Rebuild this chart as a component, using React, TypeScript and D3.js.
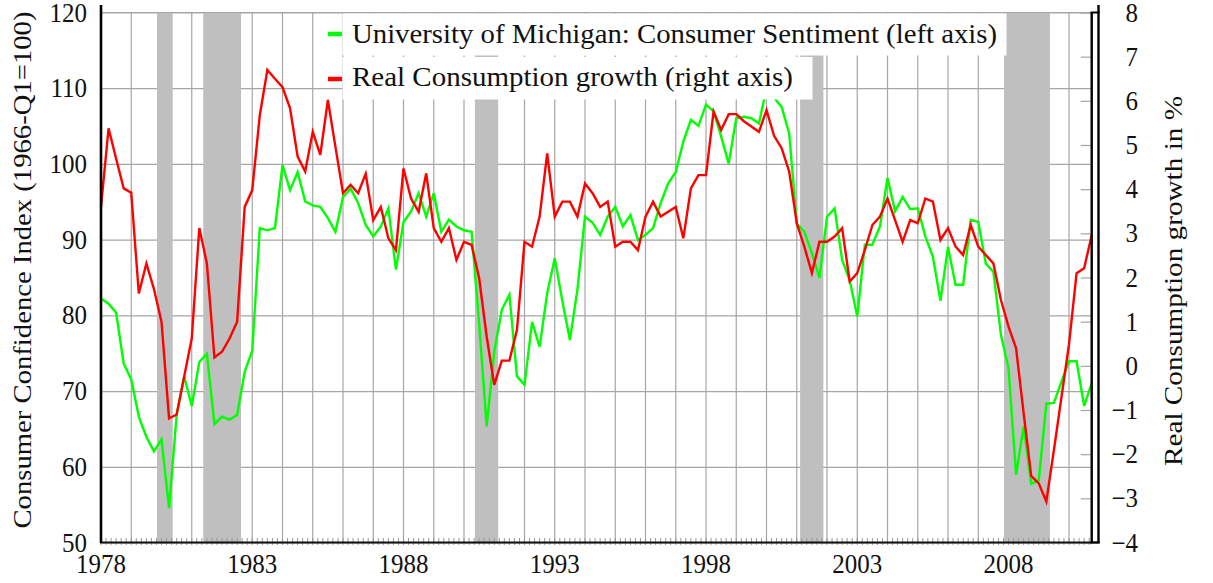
import React from "react";
import * as d3 from "d3";

// ---- data (quarterly, 1978Q1 .. 2010Q4) ----
const startYear = 1978;
const sentiment: number[] = [
  82.3, 81.6, 80.4, 73.7, 71.6, 66.7, 64.0, 62.1, 63.7, 54.6,
  66.9, 72.0, 68.1, 73.9, 75.0, 65.7, 66.7, 66.3, 66.9, 72.6,
  75.4, 91.6, 91.3, 91.6, 99.9, 96.6, 99.0, 95.1, 94.6, 94.4,
  92.9, 91.1, 95.7, 96.8, 94.9, 92.0, 90.5, 91.8, 94.2, 86.1,
  92.4, 93.8, 96.2, 93.1, 96.2, 91.1, 92.7, 91.8, 91.3, 91.1,
  79.0, 65.4, 75.3, 80.8, 82.8, 72.0, 70.9, 79.2, 75.9, 83.0,
  87.6, 82.0, 76.8, 83.5, 93.1, 92.3, 90.7, 93.1, 94.4, 91.8,
  93.3, 90.0, 90.7, 91.6, 94.9, 97.5, 99.0, 103.0, 105.9, 105.1,
  107.9, 107.0, 103.7, 100.1, 106.1, 106.3, 106.1, 105.4, 110.1, 108.8,
  107.6, 104.1, 92.2, 91.1, 88.3, 85.0, 93.1, 94.2, 87.4, 84.7,
  79.9, 89.4, 89.4, 91.8, 98.2, 93.8, 95.7, 94.1, 94.2, 90.5,
  87.8, 82.0, 89.1, 84.1, 84.1, 92.7, 92.4, 86.9, 85.8, 77.5,
  73.1, 59.0, 65.4, 57.8, 58.3, 68.4, 68.5, 71.3, 74.0, 74.0,
  68.1, 71.1,
];
const consumptionGrowth: number[] = [
  3.61, 5.39, 4.7, 4.03, 3.93, 1.65, 2.33, 1.75, 1.01, -1.18,
  -1.09, -0.23, 0.63, 3.13, 2.33, 0.2, 0.33, 0.63, 1.01, 3.61,
  3.99, 5.69, 6.71, 6.51, 6.32, 5.84, 4.75, 4.41, 5.31, 4.79,
  6.03, 4.97, 3.92, 4.11, 3.92, 4.36, 3.31, 3.61, 2.9, 2.63,
  4.48, 3.8, 3.5, 4.37, 3.13, 2.82, 3.13, 2.41, 2.82, 2.75,
  2.0, 0.67, -0.42, 0.13, 0.13, 0.82, 2.82, 2.71, 3.39, 4.82,
  3.39, 3.73, 3.73, 3.39, 4.14, 3.92, 3.61, 3.73, 2.71, 2.82,
  2.82, 2.63, 3.39, 3.73, 3.39, 3.5, 3.61, 2.9, 4.03, 4.33,
  4.33, 5.77, 5.35, 5.71, 5.71, 5.55, 5.43, 5.31, 5.8, 5.22,
  4.94, 4.41, 3.24, 2.71, 2.11, 2.82, 2.82, 2.94, 3.13, 1.92,
  2.11, 2.63, 3.2, 3.39, 3.8, 3.31, 2.82, 3.31, 3.24, 3.8,
  3.73, 2.86, 3.13, 2.71, 2.52, 3.2, 2.71, 2.52, 2.33, 1.5,
  0.9, 0.41, -1.06, -2.48, -2.65, -3.06, -1.9, -0.7, 0.5, 2.11,
  2.22, 2.97,
];
const recessions: [number, number][] = [
  [1979.85, 1980.37],
  [1981.38, 1982.63],
  [1990.36, 1991.13],
  [2001.11, 2001.88],
  [2007.85, 2009.37],
];
const xTickLabels = [1978, 1983, 1988, 1993, 1998, 2003, 2008];
const leftTicks = [50, 60, 70, 80, 90, 100, 110, 120];
const rightTicks = [-4, -3, -2, -1, 0, 1, 2, 3, 4, 5, 6, 7, 8];
const legendLabels = [
  "University of Michigan: Consumer Sentiment (left axis)",
  "Real Consumption growth (right axis)",
];
const leftTitle = "Consumer Confidence Index (1966-Q1=100)";
const rightTitle = "Real Consumption growth in %";

const W = 1213;
const H = 583;
const FONT = "'Liberation Serif', 'DejaVu Serif', serif";
const SY = 1.08;

export default function App() {
  const left = 101;
  const right = 1091.7;
  const top = 13;
  const bottom = 543;
  const x = d3.scaleLinear().domain([1978, 2010.75]).range([left, right]);
  const yL = d3.scaleLinear().domain([50, 120]).range([bottom, top]);
  const yR = d3.scaleLinear().domain([-4, 8]).range([bottom, top]);

  const dates = sentiment.map((_, i) => startYear + i / 4);
  const lineL = d3
    .line<number>()
    .x((_, i) => x(dates[i]))
    .y((d) => yL(d));
  const lineR = d3
    .line<number>()
    .x((_, i) => x(dates[i]))
    .y((d) => yR(d));

  const years = d3.range(1979, 2011);
  const minor = d3.range(0, 32.75 * 6 + 0.01).map((k) => 1978 + k / 6);
  const grid = "#a6a6a6";

  const txt = (
    key: string | number,
    tx: number,
    ty: number,
    s: string,
    anchor: string,
    extra: any = {}
  ) => (
    <text
      key={key}
      transform={`translate(${tx},${ty}) scale(1,${SY})`}
      textAnchor={anchor}
      fontFamily={FONT}
      fontSize={25}
      fill="#111"
      {...extra}
    >
      {s}
    </text>
  );

  return (
    <svg
      width={W}
      height={H}
      style={{ position: "absolute", left: 0, top: 0, display: "block", background: "#fff" }}
    >
      <rect x={0} y={0} width={W} height={H} fill="#fff" />
      {/* grid */}
      {leftTicks.map((v) => (
        <line key={"h" + v} x1={left} x2={right} y1={yL(v)} y2={yL(v)} stroke={grid} strokeWidth={1.2} />
      ))}
      {years.map((yv) => (
        <line key={"v" + yv} x1={x(yv)} x2={x(yv)} y1={top} y2={bottom} stroke={grid} strokeWidth={1.2} />
      ))}
      {/* recession bars */}
      {recessions.map(([a, b], i) => (
        <rect key={"r" + i} x={x(a)} y={top} width={x(b) - x(a)} height={bottom - top} fill="#bfbfbf" />
      ))}
      {/* right axis inward ticks */}
      {rightTicks.map((v) => (
        <line key={"rt" + v} x1={right - 11} x2={right} y1={yR(v)} y2={yR(v)} stroke={grid} strokeWidth={1.2} />
      ))}
      {/* minor ticks bottom */}
      {minor.map((m, i) => (
        <line key={"m" + i} x1={x(m)} x2={x(m)} y1={bottom - 5} y2={bottom + 2} stroke="#999" strokeWidth={1} />
      ))}
      {/* series */}
      <path d={lineL(sentiment) || ""} fill="none" stroke="#00ff00" strokeWidth={2.4} strokeLinejoin="miter" />
      <path d={lineR(consumptionGrowth) || ""} fill="none" stroke="#ff0000" strokeWidth={2.4} strokeLinejoin="miter" />
      {/* axes frame */}
      <line x1={left} x2={right} y1={top - 0.5} y2={top - 0.5} stroke={grid} strokeWidth={1.2} />
      <line x1={left - 1} x2={right} y1={bottom - 0.5} y2={bottom - 0.5} stroke="#111" strokeWidth={2} />
      <line x1={left} x2={left} y1={5} y2={bottom} stroke="#000" strokeWidth={2.6} />
      <line x1={right} x2={right} y1={top - 1} y2={bottom} stroke="#000" strokeWidth={2.4} />
      <line x1={right + 6.8} x2={right + 6.8} y1={5} y2={bottom} stroke="#000" strokeWidth={2.4} />
      <line x1={right - 1} x2={right + 8} y1={top - 0.5} y2={top - 0.5} stroke="#000" strokeWidth={2} />
      <line x1={right - 1} x2={right + 8} y1={bottom - 0.5} y2={bottom - 0.5} stroke="#000" strokeWidth={2.4} />
      {/* legend */}
      <rect x={342.5} y={13.5} width={664} height={42} fill="#fff" />
      <rect x={342.5} y={57} width={470} height={42.5} fill="#fff" />
      <line x1={328} x2={342} y1={34} y2={34} stroke="#00ff00" strokeWidth={4.5} />
      <line x1={328} x2={342} y1={79} y2={79} stroke="#ff0000" strokeWidth={4.5} />
      {txt("lg1", 352, 43, legendLabels[0], "start", { textLength: 645 / 1, lengthAdjust: "spacingAndGlyphs" })}
      {txt("lg2", 352, 86, legendLabels[1], "start", { textLength: 441, lengthAdjust: "spacingAndGlyphs" })}
      {/* tick labels */}
      {leftTicks.map((v) => txt("lt" + v, 87, yL(v) + 8.5, String(v), "end"))}
      {rightTicks.map((v) =>
        txt("rl" + v, 1138, yR(v) + 8.5, v < 0 ? "\u2212" + Math.abs(v) : String(v), "end")
      )}
      {xTickLabels.map((v) => txt("xl" + v, x(v), 573, String(v), "middle"))}
      {/* axis titles */}
      <text
        transform={`translate(31,270) rotate(-90)`}
        textAnchor="middle"
        fontFamily={FONT}
        fontSize={25}
        fill="#111"
        textLength={517}
        lengthAdjust="spacingAndGlyphs"
      >
        {leftTitle}
      </text>
      <text
        transform={`translate(1182,281) rotate(-90)`}
        textAnchor="middle"
        fontFamily={FONT}
        fontSize={25}
        fill="#111"
        textLength={370}
        lengthAdjust="spacingAndGlyphs"
      >
        {rightTitle}
      </text>
    </svg>
  );
}
